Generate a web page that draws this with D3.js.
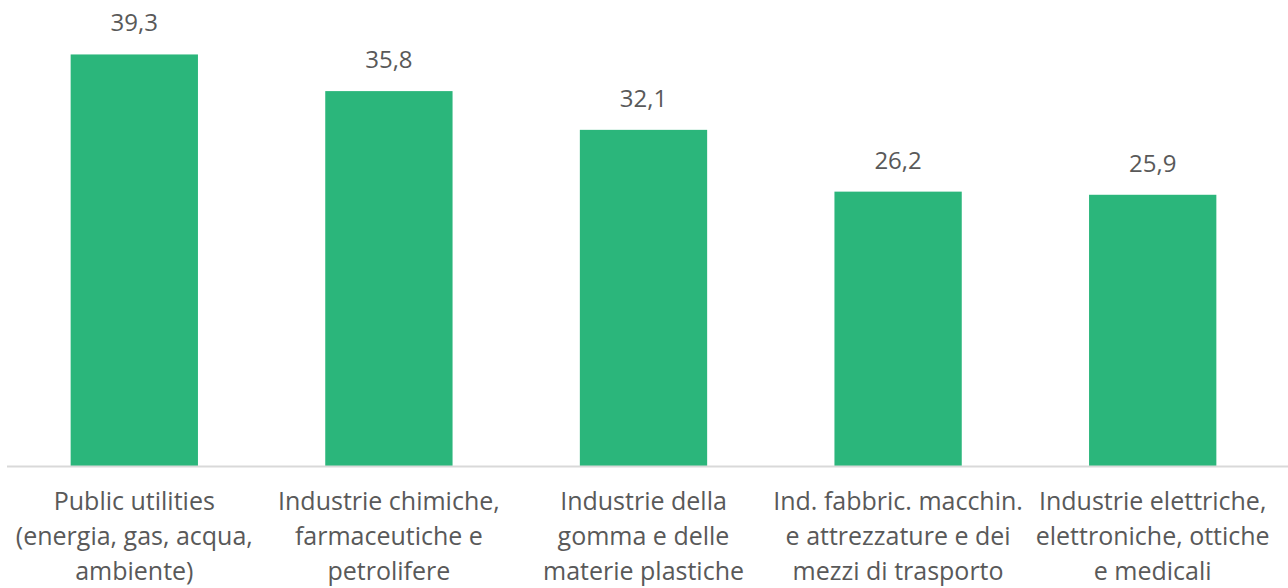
<!DOCTYPE html>
<html>
<head>
<meta charset="utf-8">
<script src="https://cdn.jsdelivr.net/npm/d3@7"></script>
<style>
  html, body { margin: 0; padding: 0; background: #fff; }
  svg { display: block; }
</style>
</head>
<body>
<div id="chart"></div>
<script>
// Categories (label lines) and values
const categories = [
    ["Public utilities", "(energia, gas, acqua,", "ambiente)"],
    ["Industrie chimiche,", "farmaceutiche e", "petrolifere"],
    ["Industrie della", "gomma e delle", "materie plastiche"],
    ["Ind. fabbric. macchin.", "e attrezzature e dei", "mezzi di trasporto"],
    ["Industrie elettriche,", "elettroniche, ottiche", "e medicali"]
];
const values = [39.3, 35.8, 32.1, 26.2, 25.9];

const width = 1288;
const height = 588;
const baseY = 466;

const svg = d3.select('#chart')
    .append('svg')
    .attr('width', width)
    .attr('height', height)
    .style('font-family', '"Open Sans", sans-serif');

const keys = categories.map(c => c.join(' '));

const x = d3.scaleBand()
    .domain(keys)
    .range([7, 1280])
    .paddingInner(0.5)
    .paddingOuter(0.25);

const y = d3.scaleLinear()
    .domain([0, 44.5])
    .range([baseY, 0]);

// Bars
svg.selectAll('rect.bar')
    .data(values)
    .enter().append('rect')
    .attr('class', 'bar')
    .attr('x', (d, i) => x(keys[i]))
    .attr('y', d => y(d))
    .attr('width', x.bandwidth())
    .attr('height', d => y(0) - y(d))
    .attr('fill', '#2bb67b');

// Baseline
svg.append('line')
    .attr('x1', 7).attr('x2', width)
    .attr('y1', baseY + 0.5).attr('y2', baseY + 0.5)
    .attr('stroke', '#d9d9d9')
    .attr('stroke-width', 2);

// Value labels
const fmt = d3.format('.1f');
svg.selectAll('text.val')
    .data(values)
    .enter().append('text')
    .attr('class', 'val')
    .attr('x', (d, i) => x(keys[i]) + x.bandwidth() / 2)
    .attr('y', d => y(d) - 23)
    .attr('text-anchor', 'middle')
    .attr('font-size', 24)
    .attr('fill', '#595959')
    .text(d => fmt(d).replace('.', ','));

// Category labels
const lbl = svg.selectAll('text.cat')
    .data(categories)
    .enter().append('text')
    .attr('class', 'cat')
    .attr('text-anchor', 'middle')
    .attr('font-size', 25)
    .attr('fill', '#595959');

lbl.selectAll('tspan')
    .data((d, i) => d.map(line => ({ line, i })))
    .enter().append('tspan')
    .attr('x', d => x(keys[d.i]) + x.bandwidth() / 2)
    .attr('y', (d, j) => 510 + j * 35)
    .text(d => d.line);
</script>
</body>
</html>
